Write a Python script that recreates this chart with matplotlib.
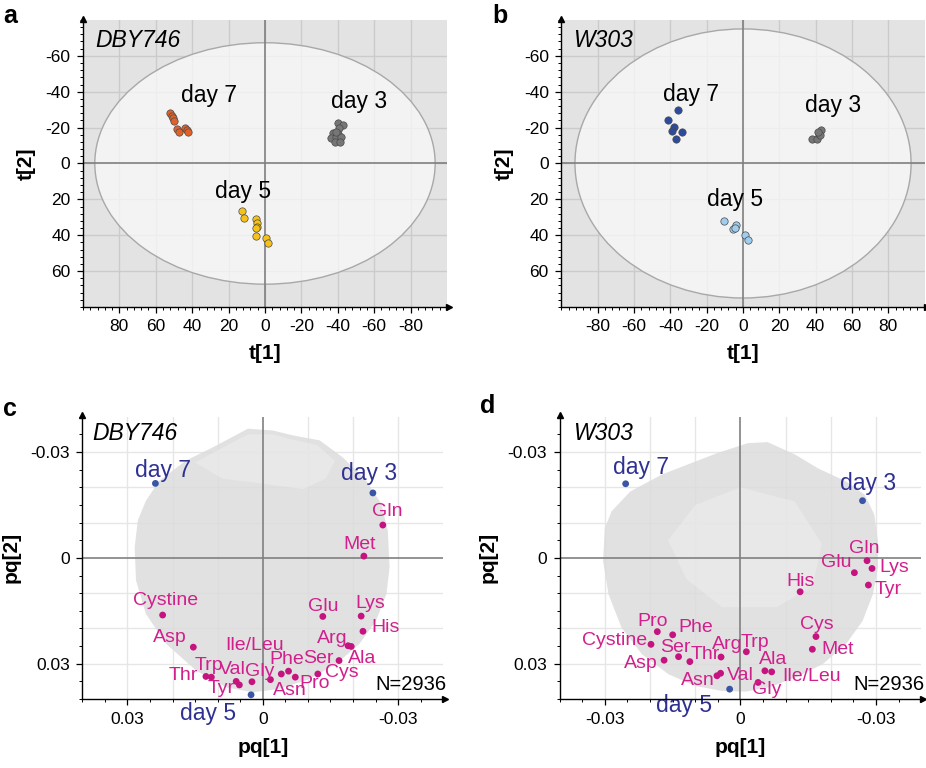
import matplotlib
matplotlib.use('Agg')
import matplotlib.pyplot as plt
from matplotlib.patches import Ellipse
from matplotlib.ticker import MultipleLocator, FixedLocator

plt.rcParams['font.family'] = ['Liberation Sans', 'DejaVu Sans']
plt.rcParams['axes.unicode_minus'] = False

# ---------------- Panel a (DBY746 scores) ----------------
a_day7_t1 = [52.2, 51.3, 50.4, 49.8, 48.2, 47.2, 43.9, 43.0, 42.5]
a_day7_t2 = [-27.9, -26.6, -25.6, -23.8, -19.0, -17.3, -19.5, -18.6, -17.7]
a_day3_t1 = [-40.3, -43.0, -40.8, -37.6, -40.3, -36.5, -39.2, -42.0, -38.4, -41.1, -39.2]
a_day3_t2 = [-22.6, -21.7, -19.5, -17.1, -16.6, -14.4, -14.9, -14.6, -12.2, -12.0, -17.8]
a_day5_t1 = [12.5, 11.5, 4.9, 4.6, 4.2, 4.9, 4.9, -0.4, -1.5]
a_day5_t2 = [26.6, 30.3, 30.7, 33.1, 35.3, 36.2, 40.5, 41.8, 44.6]
a_ellipse = (93.5, 67.3)

# ---------------- Panel b (W303 scores) ----------------
b_day7_t1 = [-35.9, -41.4, -37.8, -39.2, -33.7, -37.1]
b_day7_t2 = [-29.7, -24.1, -20.1, -18.2, -17.4, -13.4]
b_day3_t1 = [37.7, 40.8, 41.8, 43.1, 42.3, 41.4]
b_day3_t2 = [-13.4, -13.4, -16.7, -18.6, -15.8, -17.6]
b_day5_t1 = [-10.6, -5.7, -3.9, -4.2, 1.3, 2.8]
b_day5_t2 = [32.0, 36.4, 34.4, 35.9, 39.9, 42.7]
b_ellipse = (92.5, 75.0)

score_ticks = [-80, -60, -40, -20, 0, 20, 40, 60, 80]
score_yticks = [-60, -40, -20, 0, 20, 40, 60]

# ---------------- Panel c (DBY746 loadings) ----------------
c_names = ['Gln', 'Met', 'Cystine', 'Glu', 'Lys', 'His', 'Asp', 'Arg', 'Ala', 'Ser',
           'Cys', 'Phe', 'Pro', 'Asn', 'Gly', 'Val', 'Ile/Leu', 'Tyr', 'Trp', 'Thr']
c_pq1 = [-0.0266, -0.0224, 0.0222, -0.0133, -0.0218, -0.0222, 0.0154, -0.0189, -0.0196, -0.0169,
         -0.0122, -0.0057, -0.0072, -0.0041, -0.0017, 0.0024, 0.0059, 0.0052, 0.0114, 0.0126]
c_pq2 = [-0.0093, -0.0005, 0.0162, 0.0166, 0.0165, 0.0208, 0.0253, 0.0249, 0.0251, 0.0291,
         0.0329, 0.0321, 0.0338, 0.0329, 0.0345, 0.0351, 0.0350, 0.0360, 0.0338, 0.0336]
c_days = ['day 7', 'day 3', 'day 5']
c_day_pq1 = [0.0238, -0.0244, 0.0026]
c_day_pq2 = [-0.0211, -0.0184, 0.0388]
# outline of the grey cloud of N=2936 variables
c_cloud_pq1 = [0.0033, -0.0022, -0.0067, -0.0126, -0.0177, -0.0229, -0.0263, -0.0277, -0.0281,
               -0.0274, -0.0251, -0.0214, -0.0163, -0.0104, -0.0037, 0.0022, 0.0081, 0.0148,
               0.0214, 0.0259, 0.0281, 0.0284, 0.0277, 0.0259, 0.0229, 0.0170, 0.0111]
c_cloud_pq2 = [-0.0366, -0.0361, -0.0347, -0.0333, -0.0285, -0.0219, -0.0153, -0.0077, 0.0027,
               0.0102, 0.0178, 0.0244, 0.0300, 0.0343, 0.0371, 0.0381, 0.0367, 0.0319,
               0.0244, 0.0159, 0.0064, -0.0030, -0.0106, -0.0162, -0.0219, -0.0276, -0.0313]
c_sparse_pq1 = [0.0150, 0.0100, 0.0033, -0.0022, -0.0067, -0.0120, -0.0160, -0.0140, -0.0090, 0.0000, 0.0090]
c_sparse_pq2 = [-0.0270, -0.0305, -0.0350, -0.0350, -0.0335, -0.0320, -0.0275, -0.0225, -0.0195, -0.0210, -0.0225]

# ---------------- Panel d (W303 loadings) ----------------
d_names = ['Gln', 'Glu', 'Lys', 'Tyr', 'His', 'Cys', 'Met', 'Pro', 'Phe', 'Cystine',
           'Ser', 'Thr', 'Asp', 'Arg', 'Trp', 'Ala', 'Ile/Leu', 'Gly', 'Val', 'Asn']
d_pq1 = [0.0280, 0.0252, 0.0291, 0.0283, 0.0132, 0.0167, 0.0159, -0.0184, -0.0150, -0.0198,
         -0.0137, -0.0112, -0.0169, -0.0043, 0.0013, 0.0054, 0.0069, 0.0039, -0.0044, -0.0052]
d_pq2 = [0.0008, 0.0042, 0.0030, 0.0077, 0.0096, 0.0223, 0.0259, 0.0209, 0.0218, 0.0245,
         0.0280, 0.0294, 0.0290, 0.0281, 0.0266, 0.0320, 0.0323, 0.0353, 0.0327, 0.0334]
d_days = ['day 7', 'day 3', 'day 5']
d_day_pq1 = [-0.0254, 0.0270, -0.0024]
d_day_pq2 = [-0.0210, -0.0162, 0.0372]
d_cloud_pq1 = [0.0016, 0.0060, 0.0122, 0.0171, 0.0233, 0.0275, 0.0296, 0.0304, 0.0304, 0.0293,
               0.0270, 0.0233, 0.0182, 0.0122, 0.0063, 0.0011, -0.0041, -0.0100, -0.0159,
               -0.0218, -0.0263, -0.0292, -0.0304, -0.0300, -0.0285, -0.0244, -0.0174, -0.0100, -0.0051]
d_cloud_pq2 = [-0.0325, -0.0328, -0.0292, -0.0254, -0.0217, -0.0179, -0.0123, -0.0047, 0.0028, 0.0103,
               0.0179, 0.0245, 0.0301, 0.0339, 0.0367, 0.0379, 0.0377, 0.0363, 0.0330,
               0.0273, 0.0198, 0.0103, 0.0009, -0.0085, -0.0132, -0.0188, -0.0236, -0.0273, -0.0297]
d_sparse_pq1 = [-0.0100, 0.0000, 0.0120, 0.0180, 0.0160, 0.0080, -0.0040, -0.0120, -0.0160]
d_sparse_pq2 = [-0.0150, -0.0200, -0.0160, -0.0040, 0.0080, 0.0140, 0.0140, 0.0060, -0.0050]

loading_ticks = [-0.03, 0, 0.03]
c_xticklabels = ['-0.03', '0', '0.03']      # c: x axis runs 0.03 -> -0.03
d_xticklabels = ['-0.03', '0', '-0.03']     # d: labels as printed in the figure
loading_yticklabels = ['-0.03', '0', '0.03']
n_vars_label = 'N=2936'

# ---------------- label placements (data coords) ----------------
a_label_pos = {'day 7': (30.6, -38.0), 'day 3': (-51.6, -34.3), 'day 5': (12.3, 15.4)}
b_label_pos = {'day 7': (-28.5, -38.4), 'day 3': (49.7, -32.5), 'day 5': (-4.6, 20.1)}
c_label_pos = {'Gln': (-0.0276, -0.0131), 'Met': (-0.0214, -0.0037), 'Cystine': (0.0216, 0.0121),
               'Glu': (-0.0133, 0.0138), 'Lys': (-0.0238, 0.0129), 'His': (-0.0272, 0.0197),
               'Asp': (0.0207, 0.0227), 'Arg': (-0.0155, 0.0228), 'Ala': (-0.0220, 0.0286),
               'Ser': (-0.0124, 0.0286), 'Cys': (-0.0176, 0.0326), 'Phe': (-0.0053, 0.0288),
               'Pro': (-0.0115, 0.0357), 'Asn': (-0.0059, 0.0376), 'Gly': (0.0007, 0.0321),
               'Val': (0.0067, 0.0315), 'Ile/Leu': (0.0018, 0.0249), 'Tyr': (0.0092, 0.0371),
               'Trp': (0.0120, 0.0305), 'Thr': (0.0177, 0.0334),
               'day 7': (0.0222, -0.0247), 'day 3': (-0.0235, -0.0238), 'day 5': (0.0122, 0.0442)}
d_label_pos = {'Gln': (0.0273, -0.0026), 'Glu': (0.0211, 0.0014), 'Lys': (0.0341, 0.0028),
               'Tyr': (0.0326, 0.0089), 'His': (0.0132, 0.0066), 'Cys': (0.0169, 0.0188),
               'Met': (0.0215, 0.0259), 'Pro': (-0.0194, 0.0181), 'Phe': (-0.0100, 0.0198),
               'Cystine': (-0.0278, 0.0235), 'Ser': (-0.0144, 0.0254), 'Thr': (-0.0078, 0.0275),
               'Asp': (-0.0220, 0.0298), 'Arg': (-0.0030, 0.0245), 'Trp': (0.0032, 0.0240),
               'Ala': (0.0073, 0.0287), 'Ile/Leu': (0.0158, 0.0337), 'Gly': (0.0058, 0.0372),
               'Val': (-0.0001, 0.0334), 'Asn': (-0.0094, 0.0347),
               'day 7': (-0.0221, -0.0256), 'day 3': (0.0282, -0.0212), 'day 5': (-0.0124, 0.0419)}

MAGENTA_DOT = '#c5137f'
MAGENTA_TXT = '#d1208c'
BLUE_DOT = '#3a55a5'
BLUE_TXT = '#2e3192'

fig = plt.figure(figsize=(9.26, 7.68), dpi=100)


def style_axes(ax, minor_step):
    for s in ['top', 'right']:
        ax.spines[s].set_visible(False)
    for s in ['left', 'bottom']:
        ax.spines[s].set_color('black')
        ax.spines[s].set_linewidth(1.0)
        ax.spines[s].set_zorder(10)
    ax.xaxis.set_minor_locator(MultipleLocator(minor_step))
    ax.yaxis.set_minor_locator(MultipleLocator(minor_step))
    ax.tick_params(which='major', direction='out', length=4, width=0.9, labelsize=12.5, pad=5)
    ax.tick_params(which='minor', direction='out', length=2, width=0.7)
    ax.plot(1.005, 0, marker='>', color='black', ms=5, transform=ax.transAxes, clip_on=False, zorder=11)
    ax.plot(0, 1.005, marker='^', color='black', ms=5, transform=ax.transAxes, clip_on=False, zorder=11)


def score_panel(rect, xlim, ell, groups, label_pos, strain):
    ax = fig.add_axes(rect)
    ax.set_facecolor('#e3e3e3')
    ax.set_xlim(*xlim)
    ax.set_ylim(80, -80)
    ax.set_xticks(score_ticks)
    ax.set_yticks(score_yticks)
    ax.grid(True, which='major', color='#cbcbcb', lw=1.0, zorder=0)
    ax.set_axisbelow(True)
    ax.add_patch(Ellipse((0, 0), 2 * ell[0], 2 * ell[1], facecolor='#f9f9f9', alpha=0.75,
                         edgecolor='none', zorder=1))
    ax.add_patch(Ellipse((0, 0), 2 * ell[0], 2 * ell[1], facecolor='none',
                         edgecolor='#a8a8a8', lw=1.0, zorder=2))
    ax.axhline(0, color='#7f7f7f', lw=1.2, zorder=3)
    ax.axvline(0, color='#7f7f7f', lw=1.2, zorder=3)
    for xs, ys, col, name in groups:
        ax.scatter(xs, ys, s=28, color=col, edgecolor='#4a4a4a', linewidths=0.5, zorder=5)
        lx, ly = label_pos[name]
        ax.text(lx, ly, name, fontsize=16.5, ha='center', va='center', zorder=6)
    style_axes(ax, 4)
    ax.text(0.033, 0.93, strain, transform=ax.transAxes, fontsize=16.5, style='italic',
            ha='left', va='center', zorder=7)
    ax.set_xlabel('t[1]', fontsize=15, fontweight='bold', labelpad=7)
    ax.set_ylabel('t[2]', fontsize=15, fontweight='bold', labelpad=7)
    return ax


def loading_panel(rect, xlim, xticklabels, cloud, sparse, names, pq1, pq2, days, dpq1, dpq2,
                  label_pos, strain, strain_x):
    ax = fig.add_axes(rect)
    ax.set_facecolor('white')
    ax.set_xlim(*xlim)
    ax.set_ylim(0.04, -0.04)
    ax.xaxis.set_major_locator(FixedLocator(loading_ticks))
    ax.yaxis.set_major_locator(FixedLocator(loading_ticks))
    ax.set_xticklabels(xticklabels)
    ax.set_yticklabels(loading_yticklabels)
    for v in [-0.03, -0.02, -0.01, 0.01, 0.02, 0.03]:
        ax.axvline(v, color='#e6e6e6', lw=1.0, zorder=0)
        ax.axhline(v, color='#e6e6e6', lw=1.0, zorder=0)
    ax.fill(cloud[0], cloud[1], color='#dcdcdc', alpha=0.85, lw=0, zorder=1)
    ax.fill(sparse[0], sparse[1], color='#ebebeb', alpha=0.7, lw=0, zorder=1.5)
    ax.axhline(0, color='#808080', lw=1.2, zorder=2)
    ax.axvline(0, color='#808080', lw=1.2, zorder=2)
    ax.scatter(pq1, pq2, s=24, color=MAGENTA_DOT, edgecolor='none', zorder=5)
    for n in names:
        lx, ly = label_pos[n]
        ax.text(lx, ly, n, color=MAGENTA_TXT, fontsize=14, ha='center', va='center', zorder=6)
    ax.scatter(dpq1, dpq2, s=24, color=BLUE_DOT, edgecolor='none', zorder=5)
    for n in days:
        lx, ly = label_pos[n]
        ax.text(lx, ly, n, color=BLUE_TXT, fontsize=16.5, ha='center', va='center', zorder=6,
                clip_on=False)
    style_axes(ax, 0.005)
    ax.text(strain_x, 0.94, strain, transform=ax.transAxes, fontsize=16.5, style='italic',
            ha='left', va='center', zorder=7)
    ax.text(1.008, 0.052, n_vars_label, transform=ax.transAxes, fontsize=14.5, ha='right',
            va='center', zorder=7)
    ax.set_xlabel('pq[1]', fontsize=15, fontweight='bold', labelpad=8)
    ax.set_ylabel('pq[2]', fontsize=15, fontweight='bold', labelpad=7)
    return ax


score_panel([0.0896, 0.6003, 0.3931, 0.3737], (100, -100), a_ellipse,
            [(a_day7_t1, a_day7_t2, '#e0622a', 'day 7'),
             (a_day3_t1, a_day3_t2, '#767676', 'day 3'),
             (a_day5_t1, a_day5_t2, '#f6c21a', 'day 5')],
            a_label_pos, 'DBY746')
score_panel([0.6062, 0.6003, 0.3924, 0.3737], (-100, 100), b_ellipse,
            [(b_day7_t1, b_day7_t2, '#2d4b9c', 'day 7'),
             (b_day3_t1, b_day3_t2, '#767676', 'day 3'),
             (b_day5_t1, b_day5_t2, '#9fcdef', 'day 5')],
            b_label_pos, 'W303')
loading_panel([0.0889, 0.0898, 0.3898, 0.3676], (0.04, -0.04), c_xticklabels,
              (c_cloud_pq1, c_cloud_pq2), (c_sparse_pq1, c_sparse_pq2),
              c_names, c_pq1, c_pq2, c_days, c_day_pq1, c_day_pq2, c_label_pos, 'DBY746', 0.029)
loading_panel([0.6044, 0.0898, 0.3905, 0.3676], (-0.04, 0.04), d_xticklabels,
              (d_cloud_pq1, d_cloud_pq2), (d_sparse_pq1, d_sparse_pq2),
              d_names, d_pq1, d_pq2, d_days, d_day_pq1, d_day_pq2, d_label_pos, 'W303', 0.037)

for letter, x, y in [('a', 0.004, 0.995), ('b', 0.532, 0.995), ('c', 0.003, 0.483), ('d', 0.518, 0.487)]:
    fig.text(x, y, letter, fontsize=18, fontweight='bold', ha='left', va='top')

fig.savefig('out.png', dpi=100)
